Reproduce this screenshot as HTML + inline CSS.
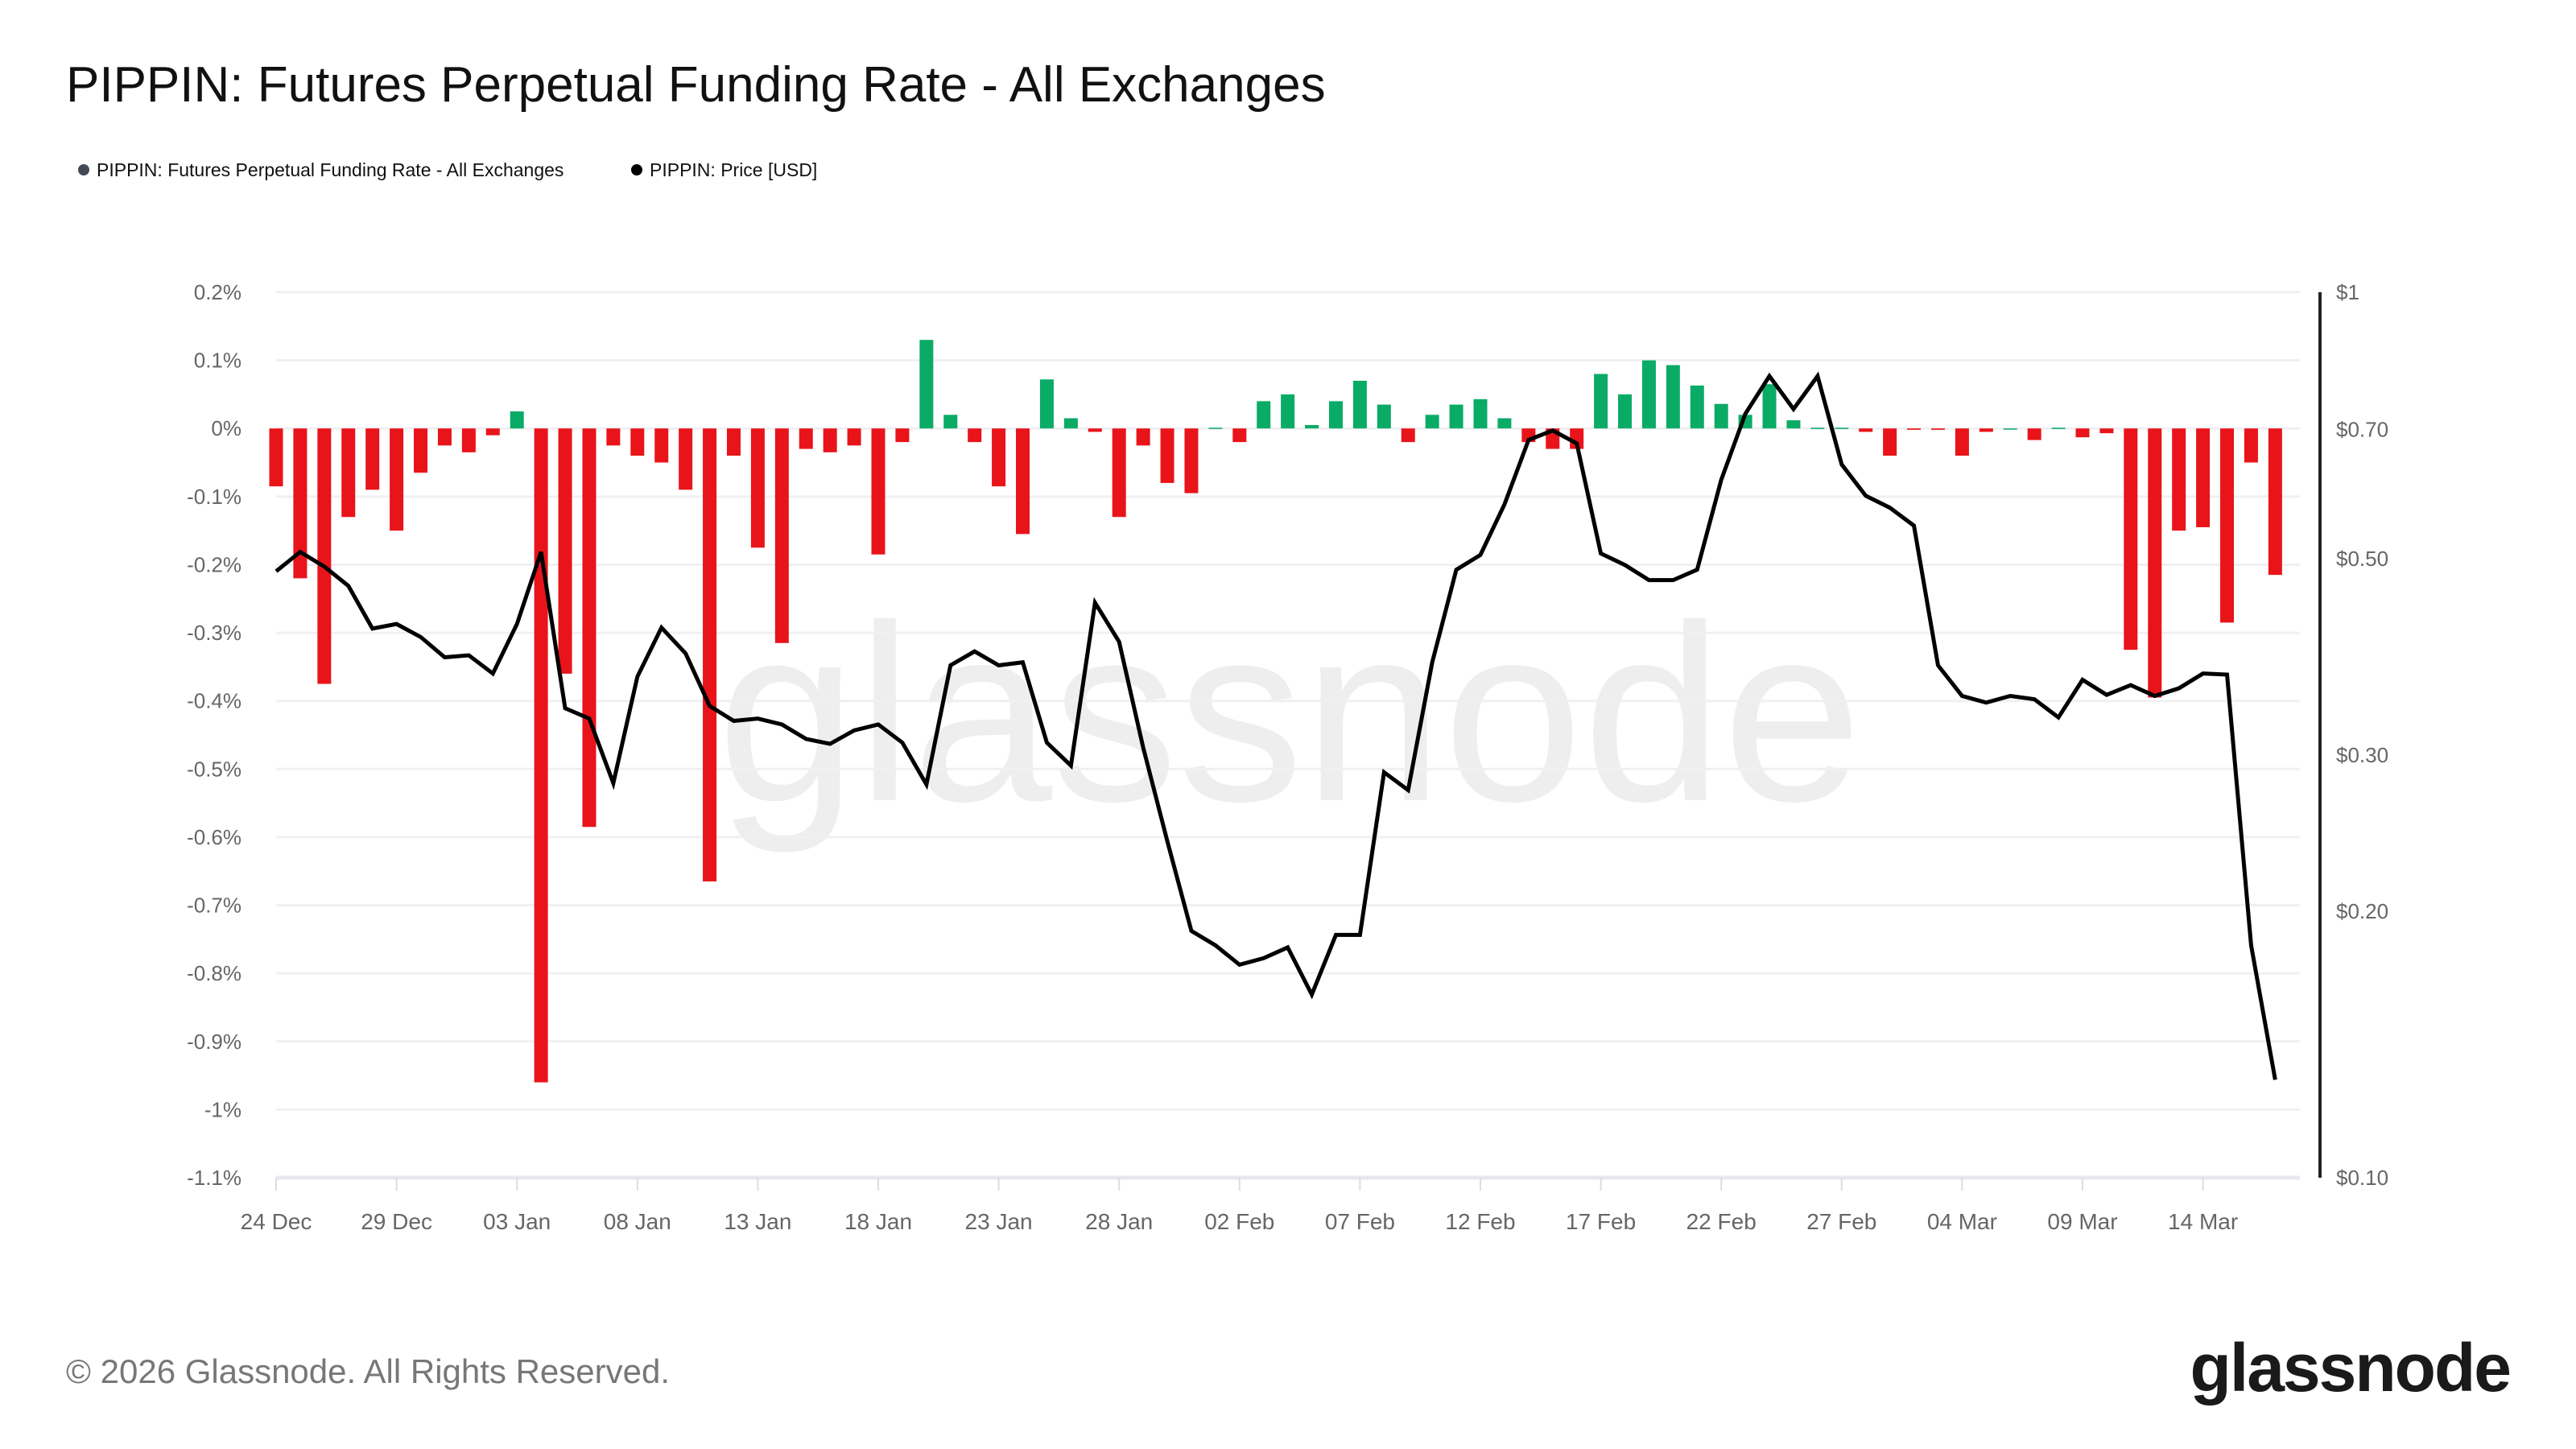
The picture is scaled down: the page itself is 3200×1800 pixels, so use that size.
<!DOCTYPE html>
<html><head><meta charset="utf-8">
<style>
html,body{margin:0;padding:0;background:#fff;}
svg{display:block;font-family:"Liberation Sans",sans-serif;}
</style></head>
<body>
<svg id="chart" width="3200" height="1800" viewBox="0 0 3200 1800" xmlns="http://www.w3.org/2000/svg">
<rect width="3200" height="1800" fill="#fff"/>
<text x="82" y="126" font-size="62" fill="#111">PIPPIN: Futures Perpetual Funding Rate - All Exchanges</text>
<g>
 <g><circle cx="104" cy="211" r="7" fill="#444a55"/><text x="120" y="219" font-size="23" fill="#111">PIPPIN: Futures Perpetual Funding Rate - All Exchanges</text></g>
 <g><circle cx="791" cy="211" r="7" fill="#000"/><text x="807" y="219" font-size="23" fill="#111">PIPPIN: Price [USD]</text></g>
</g>
<text x="1602" y="994" font-size="312" fill="#eeeeee" text-anchor="middle">glassnode</text>
<g id="grid"></g>
<g id="bars"></g>
<g id="line"></g>
<g id="axes"></g>
<text x="82" y="1718" font-size="42" fill="#777">© 2026 Glassnode. All Rights Reserved.</text>
<text x="3118" y="1728" font-size="84" fill="#1a1a1a" text-anchor="end" font-weight="bold" letter-spacing="-2">glassnode</text>
</svg>
<script>
const funding = [-0.085,-0.22,-0.375,-0.13,-0.09,-0.15,-0.065,-0.025,-0.035,-0.01,0.025,-0.96,-0.36,-0.585,-0.025,-0.04,-0.05,-0.09,-0.665,-0.04,-0.175,-0.315,-0.03,-0.035,-0.025,-0.185,-0.02,0.13,0.02,-0.02,-0.085,-0.155,0.072,0.015,-0.005,-0.13,-0.025,-0.08,-0.095,0.001,-0.02,0.04,0.05,0.005,0.04,0.07,0.035,-0.02,0.02,0.035,0.043,0.015,-0.02,-0.03,-0.03,0.08,0.05,0.1,0.093,0.063,0.036,0.02,0.065,0.012,0.001,0.001,-0.005,-0.04,-0.002,-0.002,-0.04,-0.005,0,-0.017,0.001,-0.013,-0.007,-0.325,-0.395,-0.15,-0.145,-0.285,-0.05,-0.215];
const price = [0.484,0.509,0.490,0.466,0.417,0.422,0.408,0.387,0.389,0.371,0.422,0.509,0.339,0.330,0.279,0.368,0.418,0.391,0.341,0.328,0.330,0.325,0.313,0.309,0.320,0.325,0.310,0.278,0.379,0.393,0.379,0.382,0.310,0.292,0.446,0.403,0.306,0.240,0.190,0.183,0.174,0.177,0.182,0.161,0.188,0.188,0.287,0.274,0.382,0.486,0.505,0.576,0.681,0.698,0.675,0.507,0.492,0.473,0.473,0.486,0.614,0.729,0.804,0.738,0.804,0.639,0.589,0.571,0.545,0.379,0.350,0.344,0.350,0.347,0.331,0.365,0.351,0.360,0.350,0.357,0.371,0.370,0.183,0.129];
const xTickLabels = ["24 Dec","29 Dec","03 Jan","08 Jan","13 Jan","18 Jan","23 Jan","28 Jan","02 Feb","07 Feb","12 Feb","17 Feb","22 Feb","27 Feb","04 Mar","09 Mar","14 Mar"];
const yTicks = [0.2,0.1,0,-0.1,-0.2,-0.3,-0.4,-0.5,-0.6,-0.7,-0.8,-0.9,-1,-1.1];
const yTickLabels = ["0.2%","0.1%","0%","-0.1%","-0.2%","-0.3%","-0.4%","-0.5%","-0.6%","-0.7%","-0.8%","-0.9%","-1%","-1.1%"];
const priceTicks = [1,0.7,0.5,0.3,0.2,0.1];
const priceTickLabels = ["$1","$0.70","$0.50","$0.30","$0.20","$0.10"];

const NS="http://www.w3.org/2000/svg";
const X0=343, DAY=29.92, TOP=363, BOT=1463, PLOT_R=2857;
const xs = i => X0 + i*DAY;
const yL = v => TOP + (0.2 - v)/1.3*(BOT-TOP);
const yR = p => TOP + (-Math.log10(p))*(BOT-TOP);
function mk(tag, attrs, parent){const e=document.createElementNS(NS,tag);for(const k in attrs)e.setAttribute(k,attrs[k]);parent.appendChild(e);return e;}
const grid=document.getElementById('grid'), bars=document.getElementById('bars'), line=document.getElementById('line'), axes=document.getElementById('axes');

yTicks.forEach((v,i)=>{
  const y=yL(v);
  const g=mk('line',{x1:X0,x2:PLOT_R,y1:y,y2:y,stroke:i===yTicks.length-1?'#e6e8ee':'#f0f0f3','stroke-width':i===yTicks.length-1?5:3},grid);
  
  
  const t=mk('text',{x:300,y:y+9,'font-size':26,fill:'#666','text-anchor':'end'},axes);
  t.textContent=yTickLabels[i];
  
  
});
xTickLabels.forEach((lab,i)=>{
  const x=xs(i*5);
  const tk=mk('line',{x1:x,x2:x,y1:BOT,y2:BOT+16,stroke:'#ddd','stroke-width':2},axes);
  
  
  const t=mk('text',{x:x,y:BOT+64,'font-size':28,fill:'#666','text-anchor':'middle'},axes);
  t.textContent=lab;
  
  
});
const ra=mk('line',{x1:2882,x2:2882,y1:TOP,y2:BOT,stroke:'#222','stroke-width':4},axes);


priceTicks.forEach((p,i)=>{
  const t=mk('text',{x:2902,y:yR(p)+9,'font-size':26,fill:'#666'},axes);
  t.textContent=priceTickLabels[i];
  
  
});
const zero=yL(0);
funding.forEach((v,i)=>{
  const y=yL(v);
  const r=mk('rect',{x:xs(i)-8.5,width:17,y:Math.min(y,zero),height:Math.max(Math.abs(y-zero),1.5),fill:v>=0?'#0aab66':'#e8141a'},bars);
  
  
});
const pl=mk('polyline',{points:price.map((p,i)=>xs(i)+','+yR(p)).join(' '),fill:'none',stroke:'#000','stroke-width':5,'stroke-linejoin':'miter'},line);


</script>
</body></html>
